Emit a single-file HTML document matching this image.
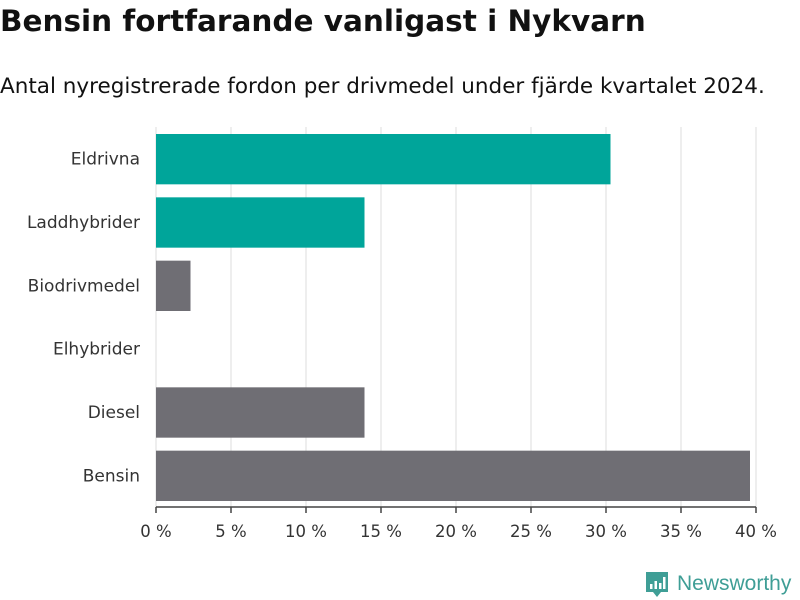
<!DOCTYPE html>
<html><head><meta charset="utf-8"><style>
body{margin:0;width:800px;height:600px;background:#fff;font-family:"DejaVu Sans","Liberation Sans",sans-serif;overflow:hidden}
h1{position:absolute;left:0;top:4px;margin:0;font-size:29.5px;font-weight:bold;color:#111;letter-spacing:0px}
p.sub{position:absolute;left:0;top:74px;margin:0;font-size:21.5px;color:#111}
</style></head><body>
<h1>Bensin fortfarande vanligast i Nykvarn</h1>
<p class="sub">Antal nyregistrerade fordon per drivmedel under fjärde kvartalet 2024.</p>
<svg id="c" width="800" height="600" style="position:absolute;left:0;top:0">
<g>
<path d="M646 572 h22 v20 h-7 l-4 5 l-4 -5 h-7 z" fill="#3f9e96"/>
<rect x="650" y="584" width="2.5" height="5" fill="#fff"/><rect x="654.5" y="581" width="2.5" height="8" fill="#fff"/><rect x="659" y="583" width="2.5" height="6" fill="#fff"/><rect x="663" y="577" width="2.5" height="12" fill="#fff"/>
<text x="677" y="590" font-size="21" fill="#3f9e96" font-family="Liberation Sans, sans-serif">Newsworthy</text>
</g>
</svg>
<script>
const categories=["Eldrivna","Laddhybrider","Biodrivmedel","Elhybrider","Diesel","Bensin"];
const values=[30.3,13.9,2.3,0,13.9,39.6];
const colors=["#00a59a","#00a59a","#6f6e74","#6f6e74","#6f6e74","#6f6e74"];
const ticks=[0,5,10,15,20,25,30,35,40];
const tickLabels=["0 %","5 %","10 %","15 %","20 %","25 %","30 %","35 %","40 %"];
const svg=document.getElementById('c');const NS="http://www.w3.org/2000/svg";
const x0=156,x1=756,plotTop=127,plotBot=507,band=(plotBot-plotTop)/categories.length;
const xs=v=>x0+(v/40)*(x1-x0);
function mk(t,a,txt){const e=document.createElementNS(NS,t);for(const k in a)e.setAttribute(k,a[k]);if(txt!==undefined)e.textContent=txt;svg.appendChild(e);return e;}
ticks.forEach((t,i)=>{
 const g=mk('line',{x1:xs(t),x2:xs(t),y1:plotTop,y2:plotBot,stroke:'#dddddd','stroke-width':1});
 
 
 const tk=mk('line',{x1:xs(t),x2:xs(t),y1:plotBot,y2:plotBot+6,stroke:'#444','stroke-width':1.5});
 
 
 const l=mk('text',{x:xs(t),y:537,'text-anchor':'middle','font-size':16.5,fill:'#333'},tickLabels[i]);
 
 
});
categories.forEach((c,i)=>{
 const y=plotTop+i*band;
 const r=mk('rect',{x:x0,y:y+7,width:xs(values[i])-x0,height:band-13,fill:colors[i]});
 
 
 const l=mk('text',{x:140,y:y+band/2+6,'text-anchor':'end','font-size':17,fill:'#333'},c);
 
 
});
const ax=mk('line',{x1:x0,x2:x1,y1:plotBot,y2:plotBot,stroke:'#444','stroke-width':1.5});


</script>
</body></html>
